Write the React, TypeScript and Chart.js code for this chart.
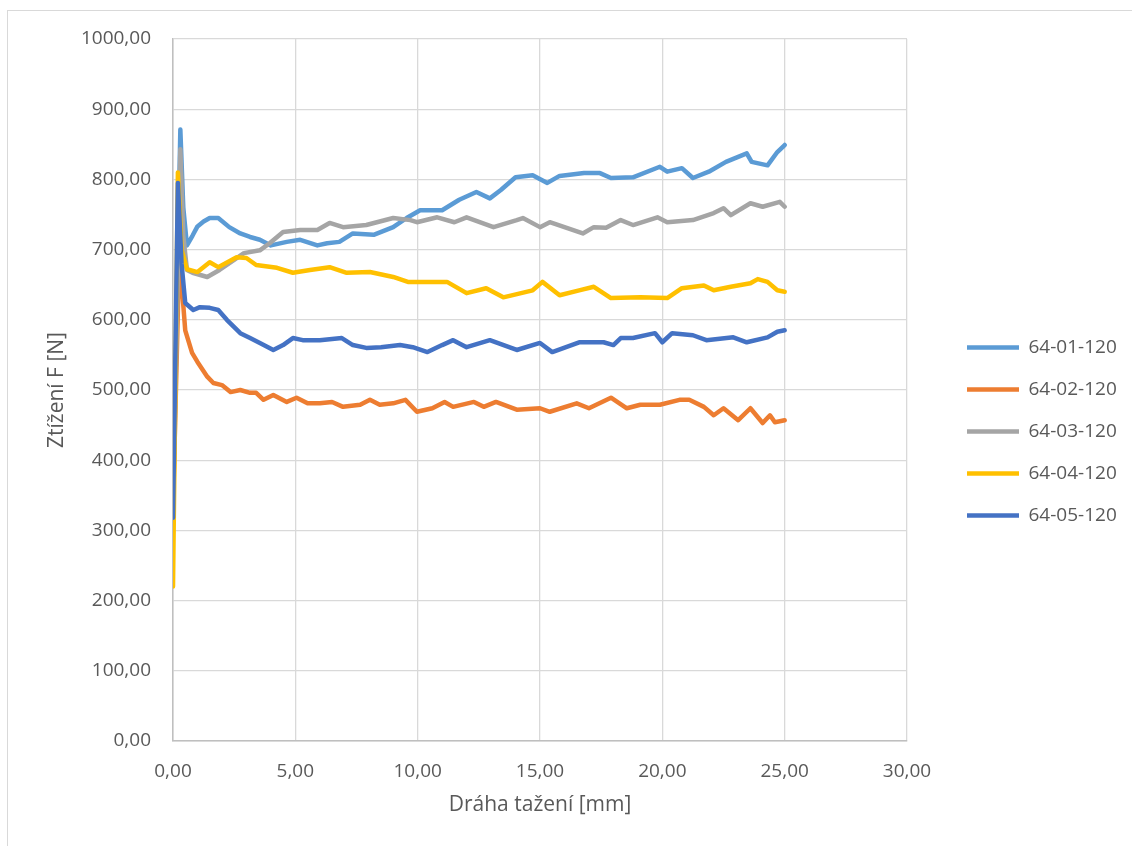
import React, { useEffect, useRef } from "react";
import { Chart, registerables } from "chart.js";

Chart.register(...registerables);

const seriesNames = ["64-01-120", "64-02-120", "64-03-120", "64-04-120", "64-05-120"];
const seriesColors = ["#5B9BD5", "#ED7D31", "#A5A5A5", "#FFC000", "#4472C4"];

const s1X = [0, 0.3, 0.42, 0.57, 0.8, 1.0, 1.25, 1.5, 1.85, 2.3, 2.75, 3.15, 3.55, 4.0, 4.65, 5.2, 5.9, 6.3, 6.8, 7.35, 8.2, 9.0, 9.55, 10.1, 11.0, 11.7, 12.4, 12.95, 13.4, 14.0, 14.7, 15.3, 15.8, 16.8, 17.45, 17.9, 18.8, 19.9, 20.2, 20.8, 21.25, 21.9, 22.6, 23.45, 23.65, 24.3, 24.7, 25.0];
const s1Y = [330, 871, 760, 706, 720, 733, 740, 745, 745, 732, 723, 718, 714, 706, 711, 714, 706, 709, 711, 723, 721, 732, 745, 756, 756, 771, 782, 773, 785, 803, 806, 795, 805, 809, 809, 802, 803, 818, 811, 816, 802, 811, 825, 837, 825, 820, 839, 849];

const s2X = [0, 0.25, 0.4, 0.5, 0.78, 1.0, 1.4, 1.65, 2.0, 2.35, 2.75, 3.15, 3.4, 3.7, 4.1, 4.65, 5.05, 5.5, 6.0, 6.5, 6.95, 7.65, 8.05, 8.45, 9.0, 9.5, 9.97, 10.6, 11.1, 11.45, 12.3, 12.7, 13.2, 14.05, 15.0, 15.4, 16.5, 17.0, 17.9, 18.55, 19.1, 19.9, 20.7, 21.1, 21.7, 22.1, 22.5, 23.1, 23.6, 24.1, 24.4, 24.6, 25.0];
const s2Y = [330, 685, 630, 585, 553, 540, 519, 510, 507, 497, 500, 496, 496, 486, 493, 483, 489, 481, 481, 483, 476, 479, 486, 479, 481, 486, 469, 474, 483, 476, 483, 476, 483, 472, 474, 469, 481, 474, 489, 474, 479, 479, 486, 486, 476, 464, 474, 457, 474, 453, 464, 454, 457];

const s3X = [0, 0.3, 0.42, 0.57, 0.8, 1.4, 1.9, 2.9, 3.55, 3.95, 4.5, 5.2, 5.9, 6.4, 6.95, 7.9, 9.0, 9.7, 9.97, 10.8, 11.5, 12.0, 13.1, 14.05, 14.3, 15.0, 15.4, 16.75, 17.2, 17.7, 18.3, 18.8, 19.8, 20.2, 21.25, 22.1, 22.5, 22.8, 23.6, 24.1, 24.8, 25.0];
const s3Y = [330, 843, 720, 671, 667, 661, 671, 695, 699, 709, 725, 728, 728, 738, 732, 735, 745, 742, 739, 746, 739, 746, 732, 742, 745, 732, 739, 723, 732, 731, 742, 735, 746, 739, 742, 752, 759, 749, 766, 761, 768, 761];

const s4X = [0, 0.2, 0.35, 0.57, 1.0, 1.5, 1.85, 2.6, 3.0, 3.4, 4.25, 4.9, 5.6, 6.4, 7.1, 8.05, 9.0, 9.6, 9.97, 11.2, 12.0, 12.8, 13.5, 14.7, 15.1, 15.8, 16.6, 17.2, 17.9, 19.1, 20.2, 20.8, 21.7, 22.1, 22.8, 23.6, 23.9, 24.3, 24.7, 25.0];
const s4Y = [220, 810, 700, 672, 668, 682, 675, 689, 688, 678, 674, 667, 671, 675, 667, 668, 661, 654, 654, 654, 638, 645, 632, 642, 654, 635, 642, 647, 631, 632, 631, 645, 649, 642, 647, 652, 658, 654, 642, 640];

const s5X = [0, 0.2, 0.35, 0.5, 0.83, 1.1, 1.5, 1.85, 2.2, 2.75, 3.15, 3.55, 4.1, 4.5, 4.9, 5.3, 6.0, 6.9, 7.35, 7.9, 8.5, 9.28, 9.8, 10.4, 11.0, 11.45, 12.0, 12.95, 14.05, 15.0, 15.5, 16.6, 17.6, 18.0, 18.3, 18.8, 19.7, 20.0, 20.4, 21.25, 21.8, 22.9, 23.45, 24.3, 24.7, 25.0];
const s5Y = [318, 795, 680, 624, 614, 618, 617, 614, 600, 581, 574, 567, 557, 564, 574, 571, 571, 574, 564, 560, 561, 564, 561, 554, 564, 571, 561, 571, 557, 567, 554, 568, 568, 564, 574, 574, 581, 568, 581, 578, 571, 575, 568, 575, 583, 585];

const seriesX = [s1X, s2X, s3X, s4X, s5X];
const seriesY = [s1Y, s2Y, s3Y, s4Y, s5Y];

const FONT = "'Open Sans', 'Noto Sans', sans-serif";
const TEXT = "#595959";
const fmt = (v: number) => v.toFixed(2).replace(".", ",");

export default function App() {
  const ref = useRef<HTMLCanvasElement | null>(null);

  useEffect(() => {
    if (!ref.current) return;
    const datasets = seriesNames.map((name, i) => ({
      label: name,
      data: seriesX[i].map((x, j) => ({ x, y: seriesY[i][j] })),
      borderColor: seriesColors[i],
      backgroundColor: seriesColors[i],
      borderWidth: 4.5,
      pointRadius: 0,
      tension: 0,
      borderJoinStyle: "round" as const,
      borderCapStyle: "round" as const,
      order: seriesNames.length - i,
    }));
    const chart = new Chart(ref.current, {
      type: "line",
      data: { datasets },
      options: {
        animation: false,
        responsive: false,
        maintainAspectRatio: false,
        layout: { padding: { top: 39, bottom: 22, left: 0, right: 10 } },
        font: { family: FONT },
        scales: {
          x: {
            type: "linear",
            min: 0,
            max: 30,
            ticks: { stepSize: 5, padding: 19, color: TEXT, font: { family: FONT, size: 19 }, callback: (v: any) => fmt(Number(v)) },
            grid: { color: "#d9d9d9", lineWidth: 1.3, drawTicks: false },
            border: { color: "#bfbfbf", width: 1.5 },
            title: { display: true, text: "Dráha tažení [mm]", color: TEXT, font: { family: FONT, size: 21 }, padding: { top: 0, bottom: 6.4 } },
            afterFit: (s: any) => { s.height = 83; },
          },
          y: {
            type: "linear",
            min: 0,
            max: 1000,
            ticks: { stepSize: 100, padding: 22, color: TEXT, font: { family: FONT, size: 19 }, callback: (v: any) => fmt(Number(v)) },
            grid: { color: "#d9d9d9", lineWidth: 1.3, drawTicks: false },
            border: { color: "#bfbfbf", width: 1.5 },
            title: { display: true, text: "Ztížení F [N]", color: TEXT, font: { family: FONT, size: 21 }, padding: { top: 44.4, bottom: 0 } },
            afterFit: (s: any) => { s.width = 173; },
          },
          yR: {
            type: "linear",
            position: "right",
            display: true,
            grid: { display: false },
            border: { display: false },
            ticks: { display: false },
            afterFit: (s: any) => { s.width = 37; },
          },
        },
        plugins: {
          legend: {
            position: "right",
            align: "center",
            maxWidth: 178,
            labels: {
              usePointStyle: true,
              pointStyle: "line",
              pointStyleWidth: 52,
              padding: 23,
              color: TEXT,
              font: { family: FONT, size: 19 },
              sort: (a: any, b: any) => a.datasetIndex - b.datasetIndex,
            },
          },
          tooltip: { enabled: false },
        },
      } as any,
    });
    return () => chart.destroy();
  }, []);

  return (
    <div style={{ position: "fixed", left: 0, top: 0, width: 1132, height: 846, overflow: "hidden", background: "#fff" }}>
      <canvas ref={ref} width={1132} height={846} style={{ position: "absolute", left: 0, top: 0, width: 1132, height: 846 }} />
      <div style={{ position: "absolute", left: 7, top: 10, width: 1140, height: 850, border: "1px solid #d9d9d9", pointerEvents: "none" }} />
    </div>
  );
}
